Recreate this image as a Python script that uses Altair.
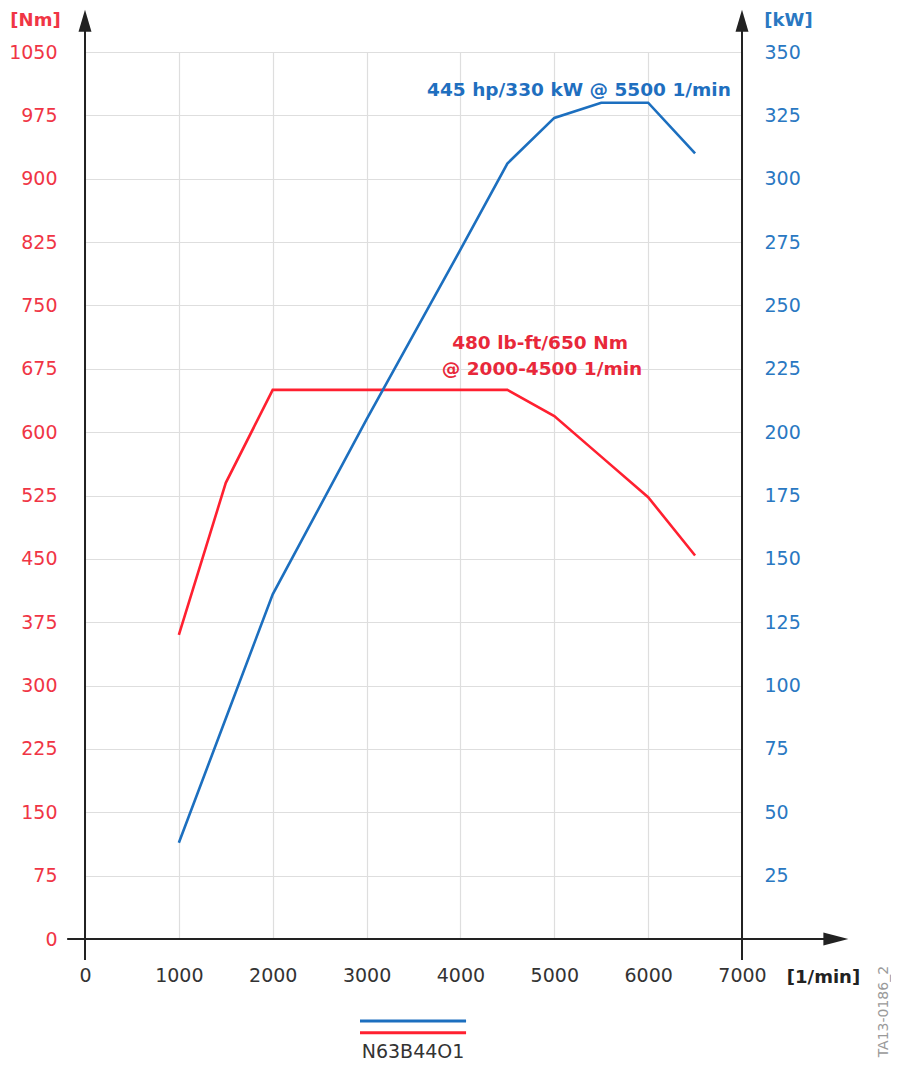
import altair as alt
import pandas as pd

# ---- data ----
rpm_torque = [1000, 1500, 2000, 4500, 5000, 5500, 6000, 6500]
torque_nm = [360, 540, 650, 650, 619, 571, 523, 454]

rpm_power = [1000, 1500, 2000, 3000, 4000, 4500, 5000, 5500, 6000, 6500]
power_kw = [38, 87, 136, 205, 272, 306, 324, 330, 330, 310]

x_ticks = [0, 1000, 2000, 3000, 4000, 5000, 6000, 7000]
nm_ticks = list(range(0, 1051, 75))
kw_ticks = list(range(25, 351, 25))

annot_text = ["445 hp/330 kW @ 5500 1/min", "480 lb-ft/650 Nm", "@ 2000-4500 1/min"]
annot_x = [5263, 4848, 4869]
annot_y = [1005, 705.5, 674.7]
annot_color = ["#1f6fbf", "#e8283a", "#e8283a"]

legend_label = "N63B44O1"
doc_id = "TA13-0186_2"

RED = "#ff2030"
BLUE = "#1c6fbf"
RED_TXT = "#f03545"
BLUE_TXT = "#2a78c2"
AXIS = "#222222"
FONT = "DejaVu Sans"
LBL = 19

xs = alt.Scale(domain=[0, 7000], nice=False, zero=False)
nm = alt.Scale(domain=[0, 1050], nice=False, zero=False)
kw = alt.Scale(domain=[0, 350], nice=False, zero=False)

x_axis = alt.Axis(
    values=x_ticks, grid=True, gridColor="#dedede", gridWidth=1.2,
    domain=False, ticks=False, labelFlush=False, labelPadding=27, format="d",
    labelColor="#333333", labelFont=FONT, labelFontSize=LBL,
    title="[1/min]", titleFont=FONT, titleFontSize=18, titleFontWeight="bold",
    titleColor="#222222", titleAngle=0, titleAlign="center", titleBaseline="middle",
    titleX=738, titleY=38)


def X(field):
    return alt.X(field, scale=xs, axis=x_axis)


torque_df = pd.DataFrame({"rpm": rpm_torque, "v": torque_nm})
power_df = pd.DataFrame({"rpm": rpm_power, "v": power_kw})

torque = alt.Chart(torque_df).mark_line(color=RED, strokeWidth=2.6).encode(
    x=X("rpm:Q"),
    y=alt.Y("v:Q", scale=nm, axis=alt.Axis(
        orient="left", values=nm_ticks, grid=True, gridColor="#dedede", gridWidth=1.2,
        domain=False, ticks=False, labelPadding=28, labelColor=RED_TXT, format="d",
        labelFont=FONT, labelFontSize=LBL,
        title="[Nm]", titleFont=FONT, titleFontSize=18, titleFontWeight="bold",
        titleColor=RED_TXT, titleAngle=0, titleAlign="center", titleBaseline="middle",
        titleX=-50, titleY=-32)),
)

power = alt.Chart(power_df).mark_line(color=BLUE, strokeWidth=2.6).encode(
    x=X("rpm:Q"),
    y=alt.Y("v:Q", scale=kw, axis=alt.Axis(
        orient="right", values=kw_ticks, grid=False, domain=False, ticks=False,
        labelPadding=22, labelColor=BLUE_TXT, labelFont=FONT, labelFontSize=LBL,
        labelAlign="left", format="d",
        title="[kW]", titleFont=FONT, titleFontSize=18, titleFontWeight="bold",
        titleColor=BLUE_TXT, titleAngle=0, titleAlign="center", titleBaseline="middle",
        titleX=46, titleY=-32)),
)

# axis lines (extend beyond the plot as in the drawing)
lines_df = pd.DataFrame({"rpm": [0, 7000, -190], "x2": [0, 7000, 8000],
                         "y": [-25, -25, 0], "y2": [1087, 1087, 0]})
axis_lines = alt.Chart(lines_df).mark_rule(color=AXIS, strokeWidth=2).encode(
    x=X("rpm:Q"), x2="x2:Q",
    y=alt.Y("y:Q", scale=nm, axis=None), y2="y2:Q",
)

up_df = pd.DataFrame({"rpm": [0, 7000], "y": [1087, 1087]})
arrows_up = alt.Chart(up_df).mark_point(
    shape="M -0.59 1 L 0 -1 L 0.59 1 Z", size=484, filled=True, opacity=1,
    color=AXIS, strokeWidth=0).encode(
    x=X("rpm:Q"), y=alt.Y("y:Q", scale=nm, axis=None))

right_df = pd.DataFrame({"rpm": [8000], "y": [0]})
arrow_right = alt.Chart(right_df).mark_point(
    shape="M -1 -0.52 L 1 0 L -1 0.52 Z", size=625, filled=True, opacity=1,
    color=AXIS, strokeWidth=0).encode(
    x=X("rpm:Q"), y=alt.Y("y:Q", scale=nm, axis=None))

annot_df = pd.DataFrame({"t": annot_text, "rpm": annot_x, "y": annot_y, "c": annot_color})
annots = alt.Chart(annot_df).mark_text(
    font=FONT, fontSize=18.5, fontWeight="bold", align="center", baseline="middle").encode(
    x=X("rpm:Q"), y=alt.Y("y:Q", scale=nm, axis=None),
    text="t:N", color=alt.Color("c:N", scale=None))

# legend swatches below the chart
leg_df = pd.DataFrame({"rpm": [2930, 2930], "x2": [4060, 4060], "y": [-97, -111],
                       "c": [BLUE, RED]})
leg_lines = alt.Chart(leg_df).mark_rule(strokeWidth=3).encode(
    x=X("rpm:Q"), x2="x2:Q",
    y=alt.Y("y:Q", scale=nm, axis=None),
    color=alt.Color("c:N", scale=None))

leg_txt_df = pd.DataFrame({"t": [legend_label], "rpm": [3495], "y": [-134]})
leg_text = alt.Chart(leg_txt_df).mark_text(
    font=FONT, fontSize=19, color="#333333", align="center", baseline="middle").encode(
    x=X("rpm:Q"), y=alt.Y("y:Q", scale=nm, axis=None), text="t:N")

id_df = pd.DataFrame({"t": [doc_id], "rpm": [8513], "y": [-86]})
id_text = alt.Chart(id_df).mark_text(
    font=FONT, fontSize=14, color="#9a9a9a", angle=270, align="center",
    baseline="middle").encode(
    x=X("rpm:Q"), y=alt.Y("y:Q", scale=nm, axis=None), text="t:N")

chart = alt.layer(
    torque, power, axis_lines, arrows_up, arrow_right, annots, leg_lines, leg_text, id_text
).resolve_scale(y="independent").properties(
    width=657, height=887, autosize="none",
    padding={"left": 77, "top": 44, "right": 149, "bottom": 122},
).configure_view(stroke=None).configure(background="white")

chart.save("out.html", embed_options={"renderer": "svg", "actions": False})
